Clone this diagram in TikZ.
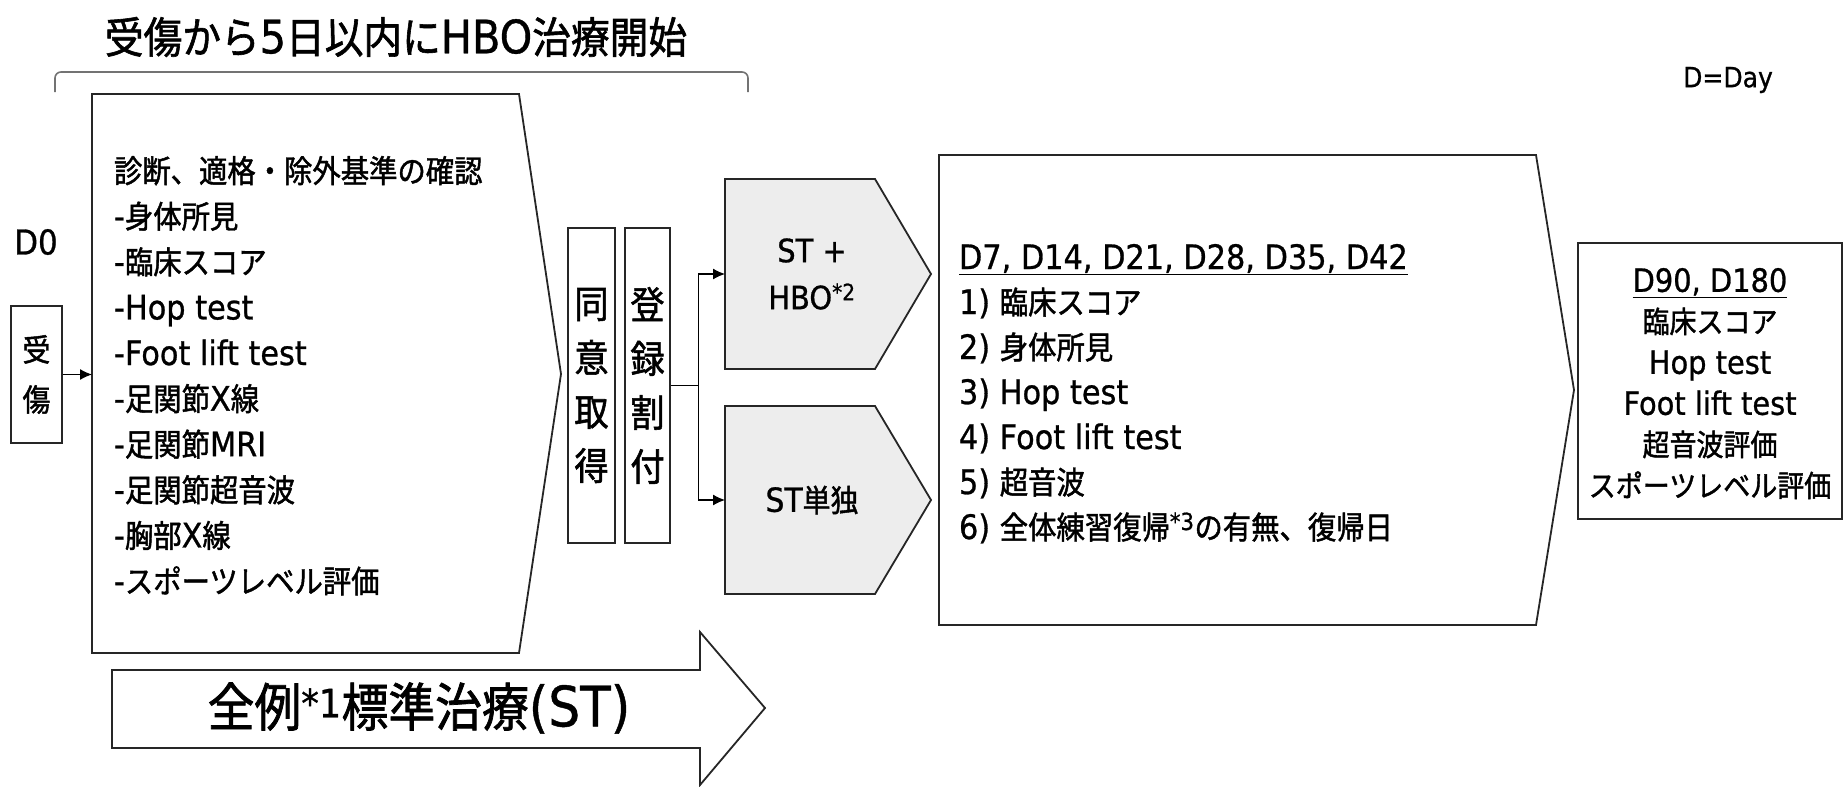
\documentclass[tikz,border=0pt]{standalone}
\usepackage{fontspec}
\setmainfont{Noto Sans CJK JP}[FakeStretch=0.9,FakeBold=1.4]
\newfontfamily\la{DejaVu Sans}[FakeStretch=0.9,Scale=1.07,FakeBold=0.8]
\usetikzlibrary{arrows.meta}
\newcommand{\setfs}[2]{\fontsize{#1}{#2}\selectfont}
\begin{document}
\begin{tikzpicture}[x=1pt,y=-1pt,
  pent/.style={draw=black!85,line width=1.8pt,line join=miter},
  lbl/.style={inner sep=0pt,outer sep=0pt},
  smallbox/.style={draw=black!85,line width=1.7pt,inner sep=0pt,align=center,fill=white},
  conn/.style={line width=1.2pt,-{Latex[length=12pt,width=11pt]}},
  plain/.style={line width=1.2pt}
]
\useasboundingbox (0,0) rectangle (1845,787);

% title and bracket
\node[lbl,font=\setfs{43}{50}] (title) at (396,37) {受傷から{\la 5}日以内に{\la HBO}治療開始};
\draw[black!55,line width=1.6pt,rounded corners=6pt] (55,92) -- (55,72) -- (748,72) -- (748,92);

\node[lbl,font=\la\setfs{26}{30}] (dday) at (1728,80) {D=Day};
\node[lbl,font=\la\setfs{32}{36}] (d0) at (36,242) {D0};

% injury box
\node[smallbox,minimum width=51pt,minimum height=137pt,font=\setfs{31}{50}] (jusho) at (36.5,374.5) {受\\傷};

% big screening pentagon
\draw[pent,fill=white] (92,94) -- (519,94) -- (561,374) -- (519,653) -- (92,653) -- cycle;
\coordinate (b1in) at (92,374.5);
\node[lbl,anchor=north west,align=left,font=\setfs{31.5}{45.6}] (b1txt) at (114,156)
 {診断、適格・除外基準の確認\\
  {\la -}身体所見\\
  {\la -}臨床スコア\\
  {\la -Hop test}\\
  {\la -Foot lift test}\\
  {\la -}足関節{\la X}線\\
  {\la -}足関節{\la MRI}\\
  {\la -}足関節超音波\\
  {\la -}胸部{\la X}線\\
  {\la -}スポーツレベル評価};

\draw[conn] (jusho.east) -- (b1in);

% consent / registration
\node[smallbox,minimum width=47pt,minimum height=315pt,font=\setfs{38}{54}] (doui) at (591.5,385.5) {同\\意\\取\\得};
\node[smallbox,minimum width=45pt,minimum height=315pt,font=\setfs{38}{54}] (toroku) at (647.5,385.5) {登\\録\\割\\付};

% arms
\draw[pent,fill=black!7] (725,179) -- (875,179) -- (931,274) -- (875,369) -- (725,369) -- cycle;
\draw[pent,fill=black!7] (725,406) -- (875,406) -- (931,500) -- (875,594) -- (725,594) -- cycle;
\coordinate (hboL) at (725,274);
\coordinate (stL) at (725,500);
\node[lbl,align=center,font=\la\setfs{30}{47}] (hbotxt) at (812,274) {ST +\\HBO\textsuperscript{*2}};
\node[lbl,font=\setfs{31}{36}] (sttxt) at (812,500) {{\la ST}単独};

\draw[plain] (toroku.east) -- ++(28,0) coordinate (br);
\draw[conn] (br) |- (hboL);
\draw[conn] (br) |- (stL);

% follow-up pentagon
\draw[pent,fill=white] (939,155) -- (1536,155) -- (1574,390) -- (1536,625) -- (939,625) -- cycle;
\node[lbl,anchor=north west,align=left,font=\setfs{31.5}{45}] (b2txt) at (959,244)
 {\underline{\la D7, D14, D21, D28, D35, D42}\\
  {\la 1) }臨床スコア\\
  {\la 2) }身体所見\\
  {\la 3) Hop test}\\
  {\la 4) Foot lift test}\\
  {\la 5) }超音波\\
  {\la 6) }全体練習復帰\textsuperscript{\la *3}の有無、復帰日};

% long-term box
\node[smallbox,minimum width=264pt,minimum height=276pt] (b3) at (1710,381) {};
\node[lbl,anchor=north,align=center,font=\setfs{30}{41}] (b3txt) at (1710,268)
 {\underline{\la D90, D180}\\
  臨床スコア\\
  {\la Hop test}\\
  {\la Foot lift test}\\
  超音波評価\\
  スポーツレベル評価};

% standard treatment arrow
\draw[pent,fill=white] (112,670) -- (700,670) -- (700,632) -- (765,708) -- (700,785) -- (700,748) -- (112,748) -- cycle;
\node[lbl,font=\setfs{52}{60}] (sttreat) at (419,708) {全例\textsuperscript{\la *1}標準治療{\la (ST)}};
\end{tikzpicture}
\end{document}
